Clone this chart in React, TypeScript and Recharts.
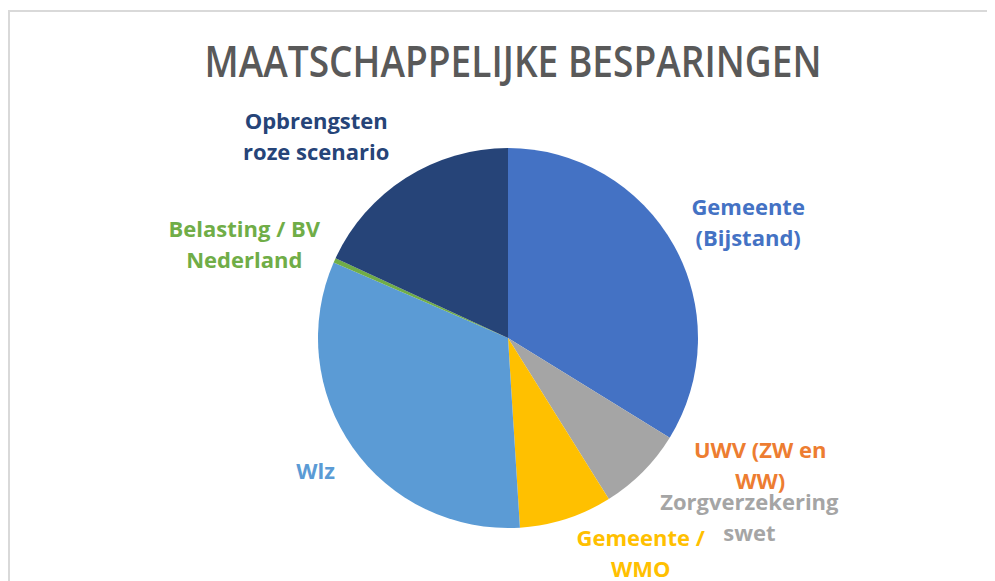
import React from "react";
import { PieChart, Pie, Cell } from "recharts";

// Maatschappelijke besparingen, share per post (%)
const categories = [
  "Gemeente (Bijstand)",
  "UWV (ZW en WW)",
  "Zorgverzekeringswet",
  "Gemeente / WMO",
  "Wlz",
  "Belasting / BV Nederland",
  "Opbrengsten roze scenario",
];
const values = [33.8, 0, 7.3, 7.9, 32.5, 0.4, 18.1];

// label text as Excel wrapped it
const labelLines = [
  ["Gemeente", "(Bijstand)"],
  ["UWV (ZW en", "WW)"],
  ["Zorgverzekering", "swet"],
  ["Gemeente /", "WMO"],
  ["Wlz"],
  ["Belasting / BV", "Nederland"],
  ["Opbrengsten", "roze scenario"],
];

const colors = ["#4472C4", "#ED7D31", "#A5A5A5", "#FFC000", "#5B9BD5", "#70AD47", "#264478"];

// small nudges so labels sit where Excel put them
const labelNudge = [
  [7, 14],
  [25, -14],
  [52, -10],
  [51, -40],
  [26, -22],
  [-20, 15],
  [-48, 22],
];

const data = categories.map((name, i) => ({ name, value: values[i] }));

const RADIAN = Math.PI / 180;
const FONT = "'Open Sans', 'Noto Sans', sans-serif";

const renderLabel = (props: any) => {
  const { cx, cy, midAngle, outerRadius, index } = props;
  const r = outerRadius + 77;
  const x = cx + r * Math.cos(-midAngle * RADIAN) + labelNudge[index][0];
  const y = cy + r * Math.sin(-midAngle * RADIAN) + labelNudge[index][1];
  const lines = labelLines[index];
  return (
    <text
      key={"lbl" + index}
      x={x}
      y={y}
      textAnchor="middle"
      fill={colors[index]}
      fontFamily={FONT}
      fontWeight={700}
      fontSize={22}
    >
      {lines.map((l, i) => (
        <tspan key={i} x={x} y={y + (i - (lines.length - 1) / 2) * 31} dominantBaseline="central">
          {l}
        </tspan>
      ))}
    </text>
  );
};

export default function App() {
  return (
    <div
      style={{
        position: "relative",
        width: 985,
        height: 569,
        marginTop: 2,
        borderTop: "2px solid #d9d9d9",
        borderLeft: "2px solid #d9d9d9",
        background: "#fff",
      }}
    >
      <style>{`body{overflow:hidden} .recharts-pie-sectors{filter:drop-shadow(0 2px 4px rgba(0,0,0,0.35));}`}</style>
      <svg width={985} height={100} style={{ position: "absolute", left: 0, top: 0 }}>
        <text
          x={503}
          y={65}
          textAnchor="middle"
          fill="#595959"
          fontFamily={FONT}
          fontWeight={600}
          fontSize={44}
          textLength={617}
          lengthAdjust="spacingAndGlyphs"
        >
          MAATSCHAPPELIJKE BESPARINGEN
        </text>
      </svg>
      <PieChart width={985} height={569} style={{ position: "absolute", left: 0, top: 0 }}>
        <Pie
          data={data}
          dataKey="value"
          nameKey="name"
          cx={493}
          cy={321}
          outerRadius={190}
          startAngle={90}
          endAngle={-270}
          stroke="none"
          labelLine={false}
          label={renderLabel}
          isAnimationActive={false}
        >
          {data.map((d, i) => (
            <Cell key={d.name} fill={colors[i]} />
          ))}
        </Pie>
      </PieChart>
    </div>
  );
}
